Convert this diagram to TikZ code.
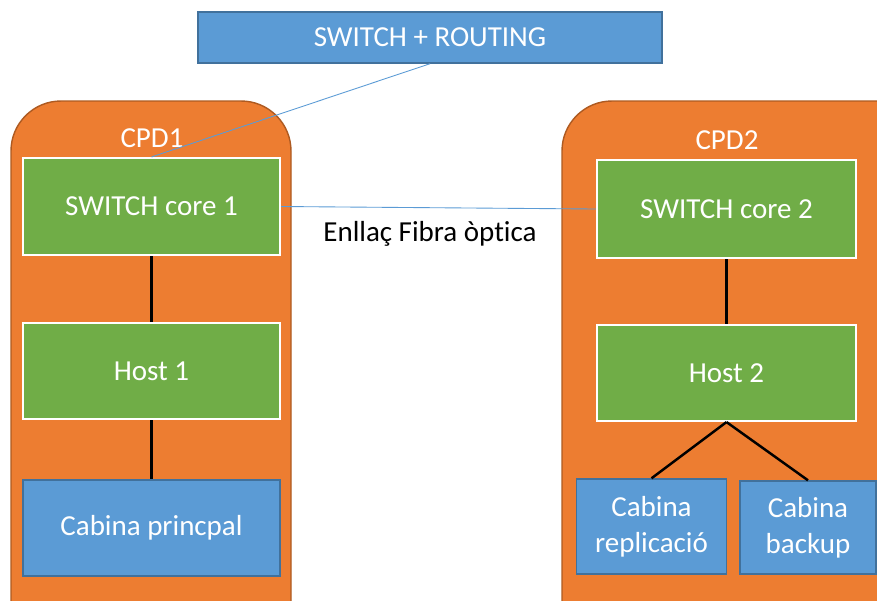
\documentclass[tikz,border=0pt]{standalone}
\usepackage{fontspec}
\setmainfont{Carlito}[Ligatures=NoCommon]
\definecolor{cpdorange}{HTML}{ED7D31}
\definecolor{cpdedge}{HTML}{AE5A21}
\definecolor{boxblue}{HTML}{5B9BD5}
\definecolor{blueedge}{HTML}{41719C}
\definecolor{boxgreen}{HTML}{70AD47}

\begin{document}
\begin{tikzpicture}[x=0.02cm, y=-0.02cm,
	font=\fontsize{16.5}{20.5}\selectfont,
	greenbox/.style={draw=white, line width=1.2pt, fill=boxgreen, text=white, minimum width=5.14cm, minimum height=1.94cm, inner sep=0pt},
	bluebox/.style={draw=blueedge, line width=0.8pt, fill=boxblue, text=white, inner sep=0pt, align=center},
	cpdbox/.style={draw=cpdedge, line width=0.8pt, fill=cpdorange, rounded corners=1cm},
	wire/.style={line width=1.4pt, black},
	fibre/.style={line width=0.5pt, boxblue}]
	\useasboundingbox (0,0) rectangle (877,600);
	\clip (0,0) rectangle (877,600);
	% data centres
	\draw[cpdbox] (11,101) rectangle (291,660);
	\draw[cpdbox] (562,101) rectangle (930,660);
	\node[text=white] (cpd1) at (152,138) {CPD1};
	\node[text=white] (cpd2) at (727,140) {CPD2};
	% top router
	\node[bluebox, minimum width=9.28cm, minimum height=1.02cm] (route) at (430,37.5) {SWITCH + ROUTING};
	% CPD1
	\node[greenbox] (sw1) at (151.5,206.5) {SWITCH core 1};
	\node[greenbox, minimum height=1.92cm] (host1) at (151.5,371) {Host 1};
	\node[bluebox, minimum width=5.14cm, minimum height=1.92cm] (cab1) at (151.5,528) {Cabina princpal};
	% CPD2
	\node[greenbox, minimum width=5.18cm, minimum height=1.96cm] (sw2) at (726.5,209) {SWITCH core 2};
	\node[greenbox, minimum width=5.18cm, minimum height=1.92cm] (host2) at (726.5,373) {Host 2};
	\node[bluebox, minimum width=3cm, minimum height=1.9cm] (rep) at (651.5,526.5) {Cabina\\replicació};
	\node[bluebox, minimum width=2.72cm, minimum height=1.86cm] (bkp) at (808,527.5) {Cabina\\backup};
	% links
	\draw[fibre] (route.south) -- (sw1.north);
	\draw[fibre] (sw1.east) -- (sw2.west);
	\node (fibra) at (430,234) {Enllaç Fibra òptica};
	\draw[wire] (sw1) -- (host1);
	\draw[wire] (host1) -- (cab1);
	\draw[wire] (sw2) -- (host2);
	\draw[wire] (host2.south) -- (rep.north);
	\draw[wire] (host2.south) -- (bkp.north);
\end{tikzpicture}
\end{document}
